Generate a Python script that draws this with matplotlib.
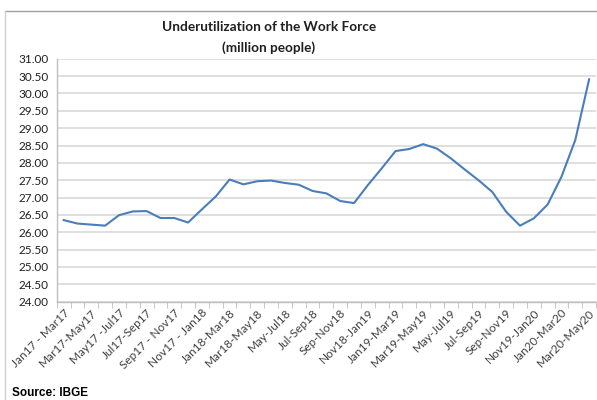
import matplotlib.pyplot as plt
from matplotlib.lines import Line2D

# rolling quarters, Jan-Mar 2017 to Mar-May 2020 (million people)
values = [26.35, 26.25, 26.22, 26.19, 26.49, 26.60, 26.61, 26.41, 26.41, 26.28,
          26.66, 27.03, 27.52, 27.38, 27.47, 27.49, 27.42, 27.37, 27.19, 27.12,
          26.90, 26.84, 27.36, 27.84, 28.34, 28.40, 28.54, 28.41, 28.13, 27.81,
          27.50, 27.16, 26.59, 26.19, 26.40, 26.80, 27.60, 28.66, 30.41]

tick_labels = ["Jan17 - Mar17", "Mar17-May17", "May17 -Jul17", "Jul17-Sep17",
               "Sep17 - Nov17", "Nov17 - Jan18", "Jan18-Mar18", "Mar18-May18",
               "May-Jul18", "Jul-Sep18", "Sep-Nov18", "Nov18-Jan19", "Jan19-Mar19",
               "Mar19-May19", "May-Jul19", "Jul-Sep19", "Sep-Nov19", "Nov19-Jan20",
               "Jan20-Mar20", "Mar20-May20"]

plt.rcParams['font.family'] = ['Lato', 'DejaVu Sans']

fig = plt.figure(figsize=(5.97, 4.0), dpi=100)
ax = fig.add_axes([0.095, 0.246, 0.9034, 0.607])

x = list(range(len(values)))
ax.plot(x, values, color='#4a7ebb', lw=1.5, zorder=3)

ax.set_ylim(24, 31)
ax.set_xlim(-0.5, len(values) - 0.5)
ax.set_yticks([24 + 0.5 * i for i in range(15)])
ax.yaxis.set_major_formatter(plt.FuncFormatter(lambda v, p: f"{v:.2f}"))
ax.grid(axis='y', color='#d9d9d9', lw=1.2)
ax.set_axisbelow(True)

ax.set_xticks(x[::2])
ax.set_xticklabels(tick_labels, rotation=45, ha='right', rotation_mode='anchor',
                   fontsize=8.5, color='#404040')
ax.set_xticks([i - 0.5 for i in range(len(values) + 1)], minor=True)
ax.tick_params(axis='x', which='major', length=0, pad=4)
ax.tick_params(axis='x', which='minor', length=4, color='#bfbfbf', direction='out')
ax.tick_params(axis='y', length=0, labelsize=8.5, labelcolor='#202020', pad=6)

for s in ['top', 'right']:
    ax.spines[s].set_visible(False)
for s in ['left', 'bottom']:
    ax.spines[s].set_color('#bfbfbf')
    ax.spines[s].set_linewidth(1.0)

fig.text(0.45, 0.932, "Underutilization of the Work Force", ha='center', va='center',
         fontsize=9.8, fontweight='bold', color='#202020')
fig.text(0.45, 0.882, "(million people)", ha='center', va='center',
         fontsize=9.8, fontweight='bold', color='#202020')
fig.text(0.02, 0.018, "Source: IBGE", ha='left', va='center', fontsize=8.5,
         fontweight='bold', family=['Liberation Sans', 'DejaVu Sans'])

# outer chart frame (cut off at right and bottom)
fig.add_artist(Line2D([0.008, 1.0], [0.973, 0.973], color='#a0a0a0', lw=1.0,
                      transform=fig.transFigure))
fig.add_artist(Line2D([0.008, 0.008], [0.0, 0.973], color='#d0d0d0', lw=1.0,
                      transform=fig.transFigure))

fig.savefig('out.png', dpi=100)
